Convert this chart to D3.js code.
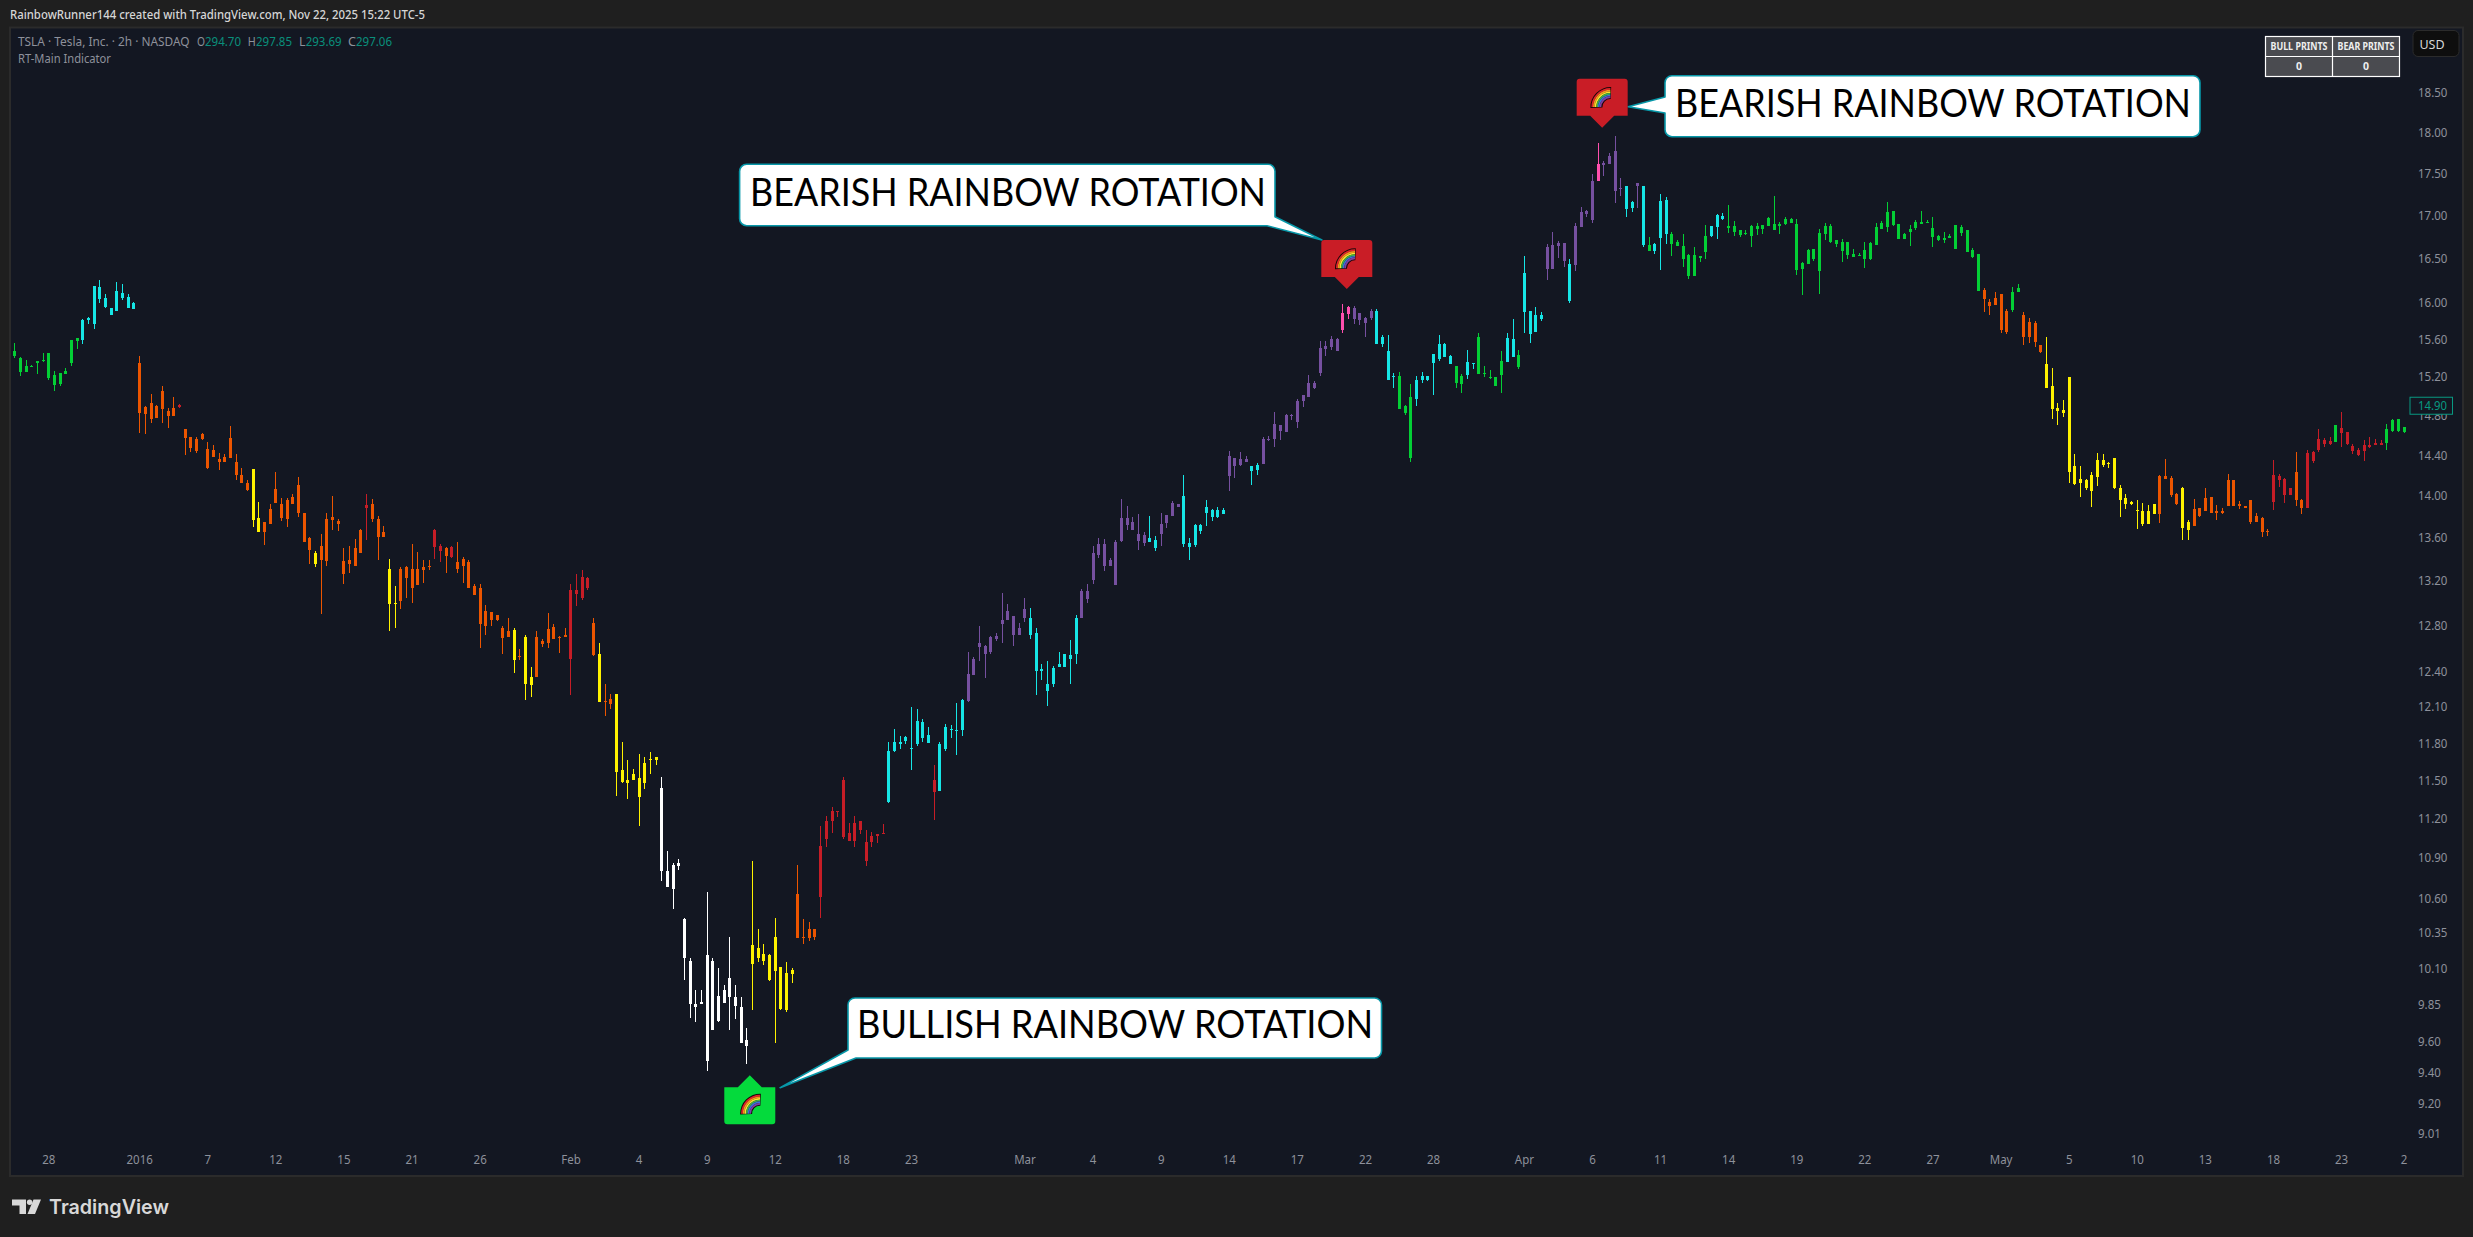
<!DOCTYPE html>
<meta charset="utf-8">
<style>
  html, body { margin: 0; padding: 0; background: #1f1f1f; }
  svg { display: block; }
  text { font-family: "Noto Sans", sans-serif; }
  .axis text { font-size: 12.5px; fill: #8e919b; }
  .axis path, .axis line { display: none; }
</style>
<svg width="2473" height="1237"></svg>
<script src="https://d3js.org/d3.v7.min.js"></script>
<script>

var highs = [
15.56,15.41,15.38,15.33,15.37,15.45,15.45,15.26,15.24,15.29,
15.59,15.61,15.82,15.84,16.19,16.25,16.10,15.94,16.23,16.21,
16.10,16.01,15.42,14.90,15.02,14.91,15.11,14.88,14.99,14.92,
14.66,14.58,14.58,14.62,14.53,14.50,14.42,14.41,14.69,14.41,
14.27,14.15,14.26,13.94,13.75,13.92,14.23,13.98,13.98,14.02,
14.18,13.84,13.61,13.48,13.64,13.84,14.00,13.78,13.50,13.52,
13.59,13.68,14.02,13.97,13.81,13.71,13.40,13.15,13.33,13.34,
13.54,13.47,13.39,13.39,13.68,13.54,13.51,13.52,13.56,13.42,
13.39,13.17,13.17,12.98,12.92,12.89,12.80,12.87,12.78,12.59,
12.72,12.44,12.75,12.68,12.91,12.81,12.71,12.78,13.17,13.26,
13.30,13.24,12.87,12.65,12.29,12.21,12.21,11.81,11.66,11.59,
11.71,11.69,11.73,11.69,11.53,10.95,10.86,10.89,10.46,10.17,
9.95,9.95,10.65,10.17,10.10,9.98,10.32,9.98,9.90,9.69,
10.88,10.38,10.27,10.20,10.46,10.11,10.14,10.10,10.85,10.45,
10.43,10.38,11.14,11.22,11.29,11.26,11.53,11.17,11.22,11.18,
11.11,11.10,11.08,11.16,11.81,11.92,11.86,11.86,12.10,12.08,
12.00,11.93,11.62,11.81,11.96,11.95,12.13,12.17,12.57,12.52,
12.80,12.63,12.71,12.73,13.09,12.99,12.88,12.82,13.05,12.96,
12.78,12.46,12.49,12.45,12.57,12.55,12.67,12.89,13.13,13.17,
13.52,13.60,13.59,13.41,13.58,13.97,13.90,13.80,13.83,13.65,
13.81,13.62,13.84,13.82,13.95,13.92,14.20,13.60,13.73,13.73,
13.96,13.87,13.89,13.88,14.44,14.37,14.43,14.39,14.29,14.32,
14.58,14.59,14.84,14.70,14.82,14.82,14.97,15.01,15.22,15.16,
15.58,15.58,15.64,15.61,15.99,15.96,15.96,15.89,15.84,15.93,
15.93,15.65,15.65,15.24,15.25,14.91,15.13,15.21,15.25,15.21,
15.44,15.65,15.56,15.43,15.32,15.23,15.49,15.35,15.67,15.32,
15.27,15.20,15.48,15.67,15.82,15.49,16.52,15.91,15.95,15.90,
16.66,16.80,16.70,16.67,16.49,16.91,17.10,17.06,17.49,17.87,
17.65,17.74,17.95,17.44,17.35,17.17,17.38,17.35,16.74,16.67,
17.25,17.21,16.80,16.71,16.78,16.55,16.63,16.52,16.88,16.87,
17.01,17.02,17.12,16.93,16.83,16.82,16.88,16.91,16.88,16.98,
17.23,16.92,16.98,16.96,16.95,16.46,16.61,16.61,16.84,16.91,
16.90,16.71,16.72,16.69,16.60,16.56,16.69,16.69,16.91,16.93,
17.15,17.05,16.90,16.79,16.88,16.94,17.05,16.94,16.98,16.77,
16.80,16.78,16.88,16.88,16.83,16.62,16.55,16.16,16.04,16.12,
16.10,15.93,16.17,16.21,15.90,15.83,15.80,15.54,15.63,15.29,
14.93,14.96,15.20,14.41,14.29,14.16,14.23,14.42,14.41,14.33,
14.37,14.11,14.02,13.95,13.96,13.93,13.91,13.92,14.20,14.36,
14.19,14.03,14.09,13.77,13.97,13.88,14.08,13.99,13.91,13.88,
14.21,14.15,13.95,13.90,13.96,13.84,13.80,13.68,14.35,14.21,
14.17,14.08,14.43,13.97,14.45,14.44,14.66,14.57,14.58,14.70,
14.84,14.63,14.51,14.47,14.55,14.58,14.56,14.55,14.71,14.76,
14.76,14.68];

var lows = [
15.40,15.21,15.25,15.30,15.23,15.36,15.17,15.05,15.11,15.23,
15.32,15.50,15.55,15.77,15.71,16.00,15.94,15.86,15.91,16.03,
15.94,15.93,14.62,14.61,14.72,14.77,14.72,14.67,14.79,14.88,
14.40,14.43,14.42,14.55,14.26,14.38,14.25,14.33,14.37,14.15,
14.13,14.05,13.70,13.65,13.53,13.73,13.93,13.76,13.70,13.92,
13.80,13.56,13.36,13.33,12.90,13.34,13.67,13.66,13.17,13.27,
13.34,13.46,13.58,13.75,13.39,13.61,12.75,12.78,12.95,13.05,
13.00,13.16,13.18,13.30,13.40,13.37,13.27,13.41,13.27,13.18,
13.14,13.07,12.60,12.72,12.80,12.84,12.55,12.70,12.39,12.50,
12.16,12.18,12.35,12.61,12.60,12.68,12.56,12.70,12.20,12.97,
13.03,13.12,12.53,12.14,12.02,12.08,11.38,11.48,11.35,11.50,
11.14,11.43,11.55,11.62,10.73,10.68,10.52,10.81,10.02,9.76,
9.73,9.85,9.41,9.68,9.73,9.86,9.68,9.75,9.59,9.45,
9.81,10.14,10.12,10.01,9.59,9.81,9.80,10.00,10.31,10.27,
10.29,10.30,10.46,10.98,11.09,11.21,11.04,11.03,10.98,11.08,
10.84,10.98,11.01,11.09,11.32,11.73,11.75,11.79,11.58,11.78,
11.81,11.80,11.19,11.42,11.74,11.84,11.70,11.86,12.14,12.37,
12.49,12.34,12.55,12.66,12.65,12.85,12.62,12.72,12.83,12.68,
12.20,12.33,12.11,12.27,12.44,12.44,12.29,12.46,12.87,13.00,
13.17,13.41,13.29,13.34,13.16,13.56,13.67,13.67,13.49,13.52,
13.56,13.48,13.52,13.69,13.81,13.89,13.51,13.39,13.51,13.64,
13.71,13.76,13.79,13.83,14.05,14.17,14.29,14.33,14.11,14.20,
14.31,14.54,14.48,14.55,14.63,14.75,14.67,14.89,14.99,15.07,
15.21,15.42,15.49,15.48,15.67,15.82,15.77,15.75,15.62,15.81,
15.55,15.52,15.17,15.08,14.87,14.81,14.33,14.90,15.14,15.16,
15.01,15.37,15.41,15.34,15.08,15.03,15.18,15.28,15.23,15.20,
15.18,15.10,15.03,15.36,15.41,15.28,15.67,15.56,15.68,15.80,
16.25,16.38,16.50,16.40,16.00,16.36,16.86,16.98,16.91,17.41,
17.47,17.61,17.14,17.23,16.98,17.04,17.08,16.63,16.58,16.55,
16.37,16.66,16.52,16.64,16.40,16.26,16.30,16.46,16.49,16.74,
16.72,16.94,16.79,16.76,16.74,16.77,16.63,16.77,16.78,16.87,
16.82,16.78,16.88,16.91,16.31,16.09,16.43,16.47,16.10,16.71,
16.67,16.63,16.46,16.49,16.51,16.52,16.39,16.48,16.65,16.84,
16.80,16.87,16.72,16.72,16.64,16.82,16.90,16.91,16.63,16.70,
16.67,16.73,16.60,16.76,16.57,16.50,16.13,15.90,15.87,15.97,
15.67,15.66,15.90,16.12,15.54,15.56,15.52,15.45,15.08,14.76,
14.70,14.78,14.13,14.11,13.99,14.06,13.89,14.10,14.28,14.27,
14.07,13.80,13.87,13.91,13.68,13.71,13.73,13.83,13.74,14.16,
13.99,13.91,13.58,13.58,13.71,13.80,13.85,13.84,13.77,13.83,
13.90,13.90,13.87,13.88,13.73,13.75,13.61,13.62,13.86,14.09,
13.93,14.01,13.90,13.83,13.88,14.32,14.43,14.48,14.50,14.53,
14.48,14.50,14.41,14.39,14.34,14.47,14.50,14.50,14.45,14.63,
14.63,14.62];

var bodyTop = [
15.48,15.40,15.32,15.32,15.37,15.38,15.45,15.22,15.24,15.26,
15.59,15.61,15.81,15.83,16.19,16.18,16.05,15.94,16.13,16.11,
16.06,16.00,15.35,14.89,14.93,14.90,15.05,14.85,14.88,14.91,
14.66,14.58,14.56,14.61,14.46,14.45,14.36,14.38,14.57,14.33,
14.20,14.13,14.26,13.79,13.75,13.87,14.07,13.92,13.96,13.99,
14.11,13.84,13.60,13.46,13.52,13.78,13.80,13.76,13.38,13.39,
13.50,13.67,13.91,13.92,13.78,13.65,13.31,13.00,13.31,13.33,
13.31,13.31,13.33,13.34,13.67,13.52,13.50,13.51,13.37,13.40,
13.37,13.15,13.14,12.93,12.92,12.89,12.78,12.75,12.76,12.53,
12.70,12.35,12.70,12.66,12.77,12.79,12.70,12.72,13.12,13.12,
13.24,13.23,12.82,12.55,12.15,12.17,12.21,11.58,11.50,11.55,
11.52,11.64,11.67,11.69,11.44,10.80,10.85,10.86,10.45,10.15,
9.85,9.87,10.19,10.15,9.91,9.95,10.03,9.90,9.83,9.61,
10.26,10.24,10.20,10.19,10.32,10.11,10.07,10.09,10.63,10.32,
10.38,10.38,10.99,11.18,11.26,11.26,11.50,11.09,11.17,11.18,
11.02,11.07,11.08,11.09,11.74,11.81,11.81,11.85,11.76,11.98,
11.97,11.87,11.50,11.79,11.93,11.92,11.91,12.16,12.38,12.51,
12.65,12.62,12.70,12.71,12.85,12.93,12.88,12.78,12.95,12.87,
12.73,12.42,12.29,12.43,12.46,12.55,12.54,12.87,13.11,13.11,
13.46,13.54,13.54,13.39,13.56,13.79,13.79,13.75,13.64,13.63,
13.60,13.58,13.73,13.82,13.93,13.92,14.00,13.55,13.72,13.72,
13.89,13.86,13.86,13.86,14.39,14.37,14.36,14.36,14.29,14.30,
14.56,14.56,14.71,14.70,14.80,14.80,14.95,15.01,15.14,15.14,
15.51,15.53,15.60,15.60,15.89,15.95,15.94,15.89,15.83,15.91,
15.91,15.62,15.48,15.21,15.21,14.90,14.99,15.17,15.21,15.21,
15.44,15.55,15.55,15.42,15.32,15.21,15.36,15.35,15.63,15.24,
15.20,15.20,15.37,15.61,15.60,15.43,16.33,15.91,15.87,15.87,
16.63,16.65,16.67,16.67,16.43,16.87,17.03,17.05,17.41,17.61,
17.62,17.71,17.77,17.32,17.35,17.15,17.38,17.34,16.65,16.66,
17.16,17.18,16.78,16.69,16.64,16.54,16.54,16.52,16.76,16.87,
17.00,16.99,16.87,16.87,16.83,16.79,16.87,16.87,16.88,16.96,
16.90,16.90,16.95,16.95,16.90,16.45,16.59,16.60,16.79,16.87,
16.87,16.71,16.69,16.69,16.55,16.54,16.59,16.67,16.86,16.91,
17.04,17.05,16.90,16.78,16.84,16.92,16.92,16.92,16.85,16.76,
16.73,16.76,16.88,16.86,16.82,16.59,16.55,16.14,16.01,16.05,
16.10,15.91,16.12,16.16,15.87,15.79,15.78,15.54,15.34,15.10,
14.88,14.86,15.20,14.29,14.16,14.15,14.20,14.35,14.35,14.32,
14.37,14.08,13.98,13.94,13.86,13.85,13.85,13.92,14.19,14.19,
14.17,14.02,14.08,13.75,13.87,13.88,13.98,13.99,13.85,13.85,
14.15,14.15,13.92,13.90,13.96,13.81,13.79,13.66,14.20,14.19,
14.16,14.08,14.23,13.96,14.42,14.43,14.56,14.55,14.54,14.70,
14.67,14.63,14.49,14.45,14.50,14.50,14.52,14.52,14.66,14.75,
14.76,14.68];

var bodyBottom = [
15.42,15.25,15.25,15.30,15.35,15.37,15.19,15.12,15.13,15.23,
15.35,15.58,15.59,15.81,15.77,16.04,15.95,15.86,15.91,16.05,
15.94,15.93,14.83,14.82,14.76,14.77,14.87,14.79,14.79,14.89,
14.57,14.47,14.44,14.56,14.27,14.38,14.33,14.33,14.37,14.20,
14.13,14.06,13.77,13.65,13.65,13.73,13.93,13.79,13.78,13.92,
13.84,13.56,13.49,13.36,13.39,13.38,13.77,13.73,13.26,13.36,
13.34,13.46,13.88,13.78,13.61,13.61,12.99,12.99,13.02,13.23,
13.14,13.16,13.30,13.33,13.51,13.48,13.43,13.42,13.31,13.34,
13.14,13.07,12.81,12.80,12.85,12.85,12.69,12.70,12.50,12.52,
12.29,12.28,12.35,12.64,12.65,12.68,12.69,12.70,12.51,13.08,
13.05,13.14,12.54,12.14,12.14,12.12,11.57,11.49,11.48,11.50,
11.37,11.48,11.66,11.66,10.80,10.68,10.67,10.84,10.17,9.85,
9.83,9.85,9.47,9.68,9.74,9.86,9.90,9.84,9.59,9.57,
10.13,10.17,10.15,10.02,10.08,9.82,9.81,10.06,10.31,10.32,
10.31,10.32,10.61,11.04,11.18,11.26,11.06,11.03,11.03,11.11,
10.88,11.02,11.07,11.09,11.33,11.74,11.79,11.82,11.76,11.79,
11.84,11.80,11.41,11.42,11.75,11.92,11.91,11.91,12.15,12.37,
12.61,12.55,12.57,12.68,12.81,12.85,12.72,12.72,12.87,12.72,
12.40,12.40,12.23,12.29,12.44,12.44,12.51,12.55,12.87,13.04,
13.21,13.44,13.34,13.34,13.16,13.57,13.72,13.67,13.57,13.55,
13.56,13.50,13.64,13.74,13.81,13.89,13.54,13.51,13.53,13.66,
13.84,13.80,13.80,13.83,14.19,14.29,14.30,14.33,14.24,14.25,
14.31,14.55,14.56,14.64,14.63,14.79,14.73,14.95,14.99,15.08,
15.24,15.50,15.52,15.48,15.70,15.88,15.82,15.81,15.78,15.83,
15.55,15.55,15.17,15.20,14.87,14.83,14.37,14.97,15.17,15.17,
15.35,15.39,15.41,15.34,15.14,15.13,15.22,15.34,15.23,15.23,
15.19,15.10,15.22,15.36,15.41,15.30,15.90,15.66,15.68,15.82,
16.38,16.38,16.64,16.47,16.02,16.42,16.86,17.01,16.94,17.41,
17.60,17.61,17.29,17.31,17.07,17.08,17.34,16.65,16.58,16.58,
16.73,16.78,16.66,16.64,16.49,16.30,16.30,16.50,16.57,16.76,
16.86,16.95,16.85,16.80,16.77,16.78,16.76,16.84,16.84,16.87,
16.82,16.87,16.90,16.91,16.37,16.38,16.43,16.49,16.36,16.78,
16.69,16.66,16.58,16.54,16.51,16.52,16.49,16.49,16.65,16.84,
16.86,16.88,16.72,16.72,16.80,16.85,16.90,16.91,16.74,16.71,
16.71,16.73,16.60,16.79,16.57,16.51,16.13,16.04,15.96,15.97,
15.70,15.68,15.92,16.12,15.63,15.62,15.57,15.46,15.08,14.87,
14.85,14.83,14.23,14.12,14.13,14.08,14.05,14.18,14.30,14.31,
14.08,13.96,13.92,13.92,13.85,13.73,13.73,13.83,13.83,14.16,
14.01,13.92,13.69,13.67,13.71,13.81,13.85,13.84,13.84,13.84,
13.90,13.90,13.90,13.88,13.75,13.75,13.65,13.65,13.94,14.15,
14.01,14.01,13.96,13.88,13.88,14.34,14.45,14.51,14.51,14.53,
14.62,14.51,14.44,14.40,14.44,14.48,14.50,14.50,14.52,14.64,
14.64,14.63];

// indicator state per bar, [tone, how many bars in a row]
var toneRuns = [
  ["green",12],["cyan",10],["orange",7],["red",1],["orange",12],["yellow",2],["orange",9],["yellow",1],
  ["orange",8],["red",1],["orange",3],["yellow",2],["orange",6],["red",2],["orange",1],["red",1],
  ["orange",10],["yellow",1],["orange",1],["yellow",2],["orange",6],["red",4],["orange",1],["yellow",1],
  ["orange",2],["yellow",8],["white",16],["yellow",8],["orange",4],["red",12],["cyan",8],["red",1],
  ["cyan",5],["purple",11],["cyan",9],["purple",12],["cyan",2],["purple",4],["cyan",8],["purple",4],
  ["cyan",2],["purple",14],["pink",2],["purple",4],["cyan",4],["green",3],["cyan",7],["green",2],
  ["cyan",2],["green",5],["cyan",2],["green",1],["cyan",4],["purple",4],["cyan",1],["purple",4],
  ["pink",1],["purple",4],["cyan",2],["purple",1],["cyan",1],["green",1],["cyan",3],["green",7],
  ["cyan",3],["green",45],["orange",5],["green",2],["orange",4],["yellow",20],["orange",4],["yellow",2],
  ["orange",14],["red",4],["orange",2],["red",5],["green",1],["red",8],["green",4]
];
var toneColor = {
  green: "#03cf35", cyan: "#16e6e6", orange: "#ec5500", red: "#c61d26",
  yellow: "#fff200", white: "#ffffff", purple: "#7650a0", pink: "#ff4fae"
};

var priceTicks = [18.5,18,17.5,17,16.5,16,15.6,15.2,14.8,14.4,14,13.6,13.2,12.8,12.4,12.1,11.8,11.5,11.2,10.9,10.6,10.35,10.1,9.85,9.6,9.4,9.2,9.01];
var timeTickBars = [6,22,34,46,58,70,82,98,110,122,134,146,158,178,190,202,214,226,238,250,266,278,290,302,314,326,338,350,362,374,386,398,410,421];
var timeTickLabels = ["28","2016","7","12","15","21","26","Feb","4","9","12","18","23","Mar","4","9","14","17","22","28","Apr","6","11","14","19","22","27","May","5","10","13","18","23","2"];

// [bar position, price of the arrow tip, direction]
var signalBars = [129.6, 234.8, 279.8];
var signalTips = [9.379, 16.153, 18.058];
var signalKinds = ["bull", "bear", "bear"];

var lastPrice = 14.90;
var rainbowColors = ["#e3222b", "#f7931e", "#fbe52e", "#3db14b", "#3c6fd9", "#7d3ea3"];

var bars = [];
toneRuns.forEach(function(r) { for (var i = 0; i < r[1]; i++) bars.push(r[0]); });

var svg = d3.select("svg");

var x = d3.scaleLinear().domain([0, 421]).range([14.3, 2403.5]);
var y = d3.scaleLog().domain([18.5, 9.01]).range([92.7, 1133.4]);

// page and pane
svg.append("rect").attr("width", 2473).attr("height", 1237).attr("fill", "#1f1f1f");
svg.append("rect").attr("x", 10).attr("y", 27.5).attr("width", 2453).attr("height", 1148.5)
  .attr("fill", "#131722").attr("stroke", "#2b2b2b").attr("stroke-width", 2);

svg.append("text").attr("x", 10).attr("y", 19).attr("font-size", 13).attr("font-weight", 500)
  .attr("fill", "#d6d6d6").attr("textLength", 415).attr("lengthAdjust", "spacingAndGlyphs")
  .text("RainbowRunner144 created with TradingView.com, Nov 22, 2025 15:22 UTC-5");

// legend
var legend = svg.append("g").attr("font-size", 12.5);
var legendBits = [
  ["TSLA · Tesla, Inc. · 2h · NASDAQ", 18, 171.6, "#8e919b"],
  ["O", 197, 8, "#8e919b"], ["294.70", 205, 36, "#0a8f7c"],
  ["H", 247.7, 8, "#8e919b"], ["297.85", 256, 36, "#0a8f7c"],
  ["L", 299, 6.5, "#8e919b"], ["293.69", 305.7, 36, "#0a8f7c"],
  ["C", 348, 8, "#8e919b"], ["297.06", 356, 36, "#0a8f7c"]
];
legendBits.forEach(function(b) {
  legend.append("text").attr("x", b[1]).attr("y", 46).attr("fill", b[3])
    .attr("textLength", b[2]).attr("lengthAdjust", "spacingAndGlyphs").text(b[0]);
});
legend.append("text").attr("x", 18).attr("y", 63).attr("fill", "#8e919b")
  .attr("textLength", 93).attr("lengthAdjust", "spacingAndGlyphs").text("RT-Main Indicator");

// axes
svg.append("g").attr("class", "axis").attr("transform", "translate(2418,0)")
  .call(d3.axisRight(y).tickValues(priceTicks).tickFormat(d3.format(".2f")).tickSize(0).tickPadding(0));
svg.append("g").attr("class", "axis").attr("transform", "translate(0,1155)")
  .call(d3.axisBottom(x).tickValues(timeTickBars).tickFormat(function(d, i) { return timeTickLabels[i]; }).tickSize(0).tickPadding(0));

// the reference's axis face is a bit narrower than Noto Sans
svg.selectAll(".axis text").each(function() {
  var t = d3.select(this);
  t.attr("textLength", this.getComputedTextLength() * 0.92).attr("lengthAdjust", "spacingAndGlyphs");
});

// candles
var candle = svg.append("g").attr("shape-rendering", "crispEdges")
  .selectAll("g").data(bars).enter().append("g")
  .attr("fill", function(d) { return toneColor[d]; });

candle.append("rect")
  .attr("x", function(d, i) { return Math.round(x(i)); })
  .attr("width", 1)
  .attr("y", function(d, i) { return y(highs[i]); })
  .attr("height", function(d, i) { return y(lows[i]) - y(highs[i]); });

candle.append("rect")
  .attr("x", function(d, i) { return Math.round(x(i)) - 1; })
  .attr("width", 3)
  .attr("y", function(d, i) { return y(bodyTop[i]); })
  .attr("height", function(d, i) { return Math.max(1, y(bodyBottom[i]) - y(bodyTop[i])); });

// callouts
function outline(pts) {
  var p = d3.path(), n = pts.length;
  var mid = function(a, b) { return [(a[0] + b[0]) / 2, (a[1] + b[1]) / 2]; };
  var s = mid(pts[n - 1], pts[0]);
  p.moveTo(s[0], s[1]);
  pts.forEach(function(c, i) {
    var nx = pts[(i + 1) % n], m = mid(c, nx);
    p.arcTo(c[0], c[1], m[0], m[1], c[2] || 0.01);
  });
  p.closePath();
  return p.toString();
}

var callouts = [
  { text: "BEARISH RAINBOW ROTATION", tx: 750, ty: 206, pts: [[739.6,164.3,7],[1275,164.3,7],[1275,216.7],[1322,240],[1267,225.7],[739.6,225.7,7]] },
  { text: "BEARISH RAINBOW ROTATION", tx: 1675, ty: 117, pts: [[1665,75.7,7],[2200,75.7,7],[2200,136.7,7],[1665,136.7,7],[1665,113],[1628,106.7],[1665,97]] },
  { text: "BULLISH RAINBOW ROTATION", tx: 857, ty: 1038, pts: [[848,998,7],[1381.5,998,7],[1381.5,1058,7],[856,1058],[780,1087.7],[848,1050]] }
];
callouts.forEach(function(c) {
  svg.append("path").attr("d", outline(c.pts)).attr("fill", "#fff").attr("stroke", "#0797a8").attr("stroke-width", 1.6);
  svg.append("text").attr("x", c.tx).attr("y", c.ty).attr("fill", "#000")
    .style("font-family", "Lato").style("font-size", "39px")
    .attr("textLength", 516).attr("lengthAdjust", "spacingAndGlyphs").text(c.text);
});

// signal labels
function signalShape(up) {
  var s = up ? 1 : -1, p = d3.path();
  var near = 12 * s, far = 49 * s, r = 3 * s;
  p.moveTo(0, 0);
  p.lineTo(12, near);
  p.lineTo(25.5, near);
  p.lineTo(25.5, far - r);
  p.quadraticCurveTo(25.5, far, 25.5 - 3, far);
  p.lineTo(-22.5, far);
  p.quadraticCurveTo(-25.5, far, -25.5, far - r);
  p.lineTo(-25.5, near);
  p.lineTo(-12, near);
  p.closePath();
  return p.toString();
}

signalBars.forEach(function(b, i) {
  var up = signalKinds[i] === "bull";
  var g = svg.append("g").attr("transform", "translate(" + x(b) + "," + y(signalTips[i]) + ")");
  g.append("path").attr("d", signalShape(up)).attr("fill", up ? "#04da3c" : "#c91d26");
  var r = g.append("g").attr("transform", up ? "translate(10.3,38.4)" : "translate(8.2,-20.6)");
  r.append("path").attr("fill", "#1a0808")
    .attr("d", d3.arc()({ innerRadius: 8, outerRadius: 20, startAngle: -Math.PI / 2 - 0.04, endAngle: 0.04 }));
  rainbowColors.forEach(function(c, k) {
    r.append("path").attr("fill", c)
      .attr("d", d3.arc()({ innerRadius: 19 - (k + 1) * 1.65, outerRadius: 19 - k * 1.65, startAngle: -Math.PI / 2, endAngle: 0 }));
  });
});

// last price tag goes over the axis labels
var tagY = y(lastPrice);
svg.append("rect").attr("x", 2410).attr("y", tagY - 8.5).attr("width", 42.5).attr("height", 17)
  .attr("fill", "#131722").attr("stroke", "#089981").attr("stroke-width", 1);
svg.append("text").attr("x", 2418).attr("y", tagY + 4.4).attr("font-size", 12.5).attr("fill", "#089981")
  .attr("textLength", 29).attr("lengthAdjust", "spacingAndGlyphs")
  .text(d3.format(".2f")(lastPrice));

// prints table
var tableHead = ["BULL PRINTS", "BEAR PRINTS"], tableVals = ["0", "0"];
svg.append("rect").attr("x", 2265.5).attr("y", 36.5).attr("width", 134).attr("height", 40)
  .attr("fill", "#4a4b50").attr("stroke", "#fff").attr("stroke-width", 1.2);
svg.append("path").attr("d", "M2332.5 36.5V76.5M2265.5 56.5H2399.5").attr("stroke", "#fff").attr("stroke-width", 1.2);
[2299, 2366].forEach(function(cx, i) {
  svg.append("text").attr("x", cx).attr("y", 50.3).attr("text-anchor", "middle").attr("font-size", 10.5)
    .attr("font-weight", 700).attr("fill", "#eee").attr("textLength", 57).attr("lengthAdjust", "spacingAndGlyphs").text(tableHead[i]);
  svg.append("text").attr("x", cx).attr("y", 70.3).attr("text-anchor", "middle").attr("font-size", 10.5)
    .attr("font-weight", 700).attr("fill", "#eee").text(tableVals[i]);
});

// currency button
svg.append("rect").attr("x", 2413).attr("y", 30.5).attr("width", 46).attr("height", 26).attr("rx", 5)
  .attr("fill", "#0e0e0e").attr("stroke", "#2b2b2b");
svg.append("text").attr("x", 2432).attr("y", 49).attr("text-anchor", "middle").attr("font-size", 12.5)
  .attr("fill", "#d6d6d6").text("USD");

// watermark
svg.append("path").attr("fill", "#d8d8d8")
  .attr("d", "M12 1199.5H26V1214H19.5V1205.5H12ZM41 1199.5L35 1214H27.5L33.5 1199.5Z");
svg.append("circle").attr("cx", 29.6).attr("cy", 1202.2).attr("r", 2.7).attr("fill", "#d8d8d8");
svg.append("text").attr("x", 49).attr("y", 1214).attr("fill", "#d8d8d8").attr("textLength", 120)
  .attr("lengthAdjust", "spacingAndGlyphs").style("font-family", "Inter").style("font-size", "20px").style("font-weight", 600)
  .text("TradingView");

</script>
